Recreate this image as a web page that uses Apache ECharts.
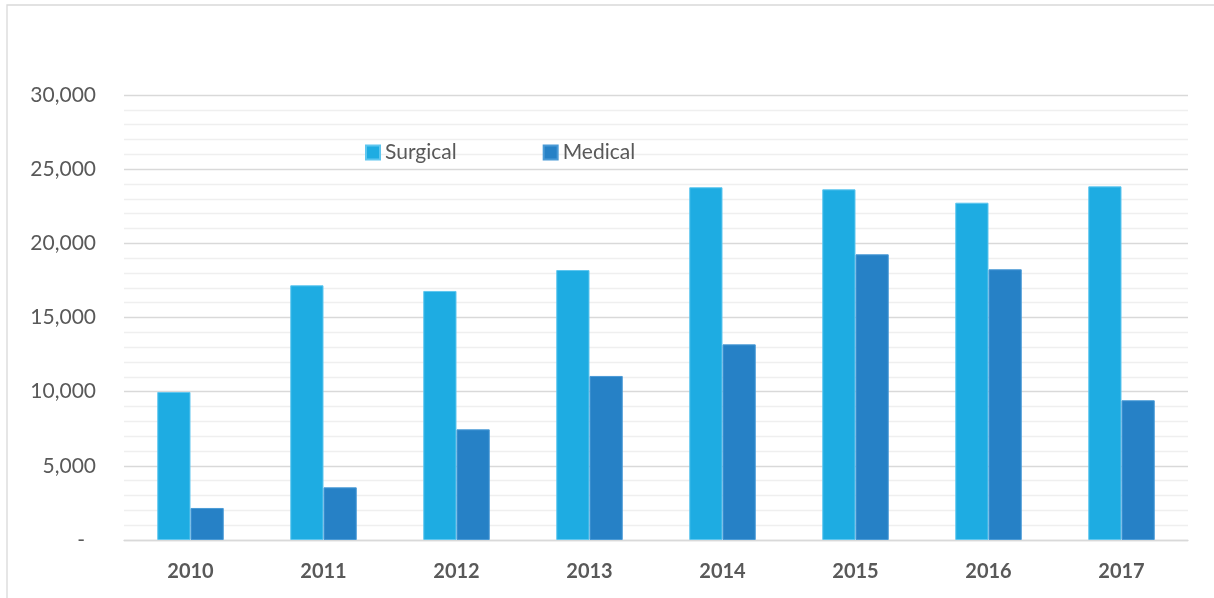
<!DOCTYPE html>
<html>
<head>
<meta charset="utf-8">
<script src="https://cdn.jsdelivr.net/npm/echarts@6/dist/echarts.min.js"></script>
<style>
html,body{margin:0;padding:0;background:#fff;}
#chart{width:1214px;height:598px;}
</style>
</head>
<body>
<div id="chart"></div>
<script>
var categories = ['2010','2011','2012','2013','2014','2015','2016','2017'];
var surgical = [9980, 17170, 16790, 18200, 23780, 23640, 22740, 23840];
var medical = [2160, 3550, 7460, 11060, 13190, 19260, 18250, 9420];
var seriesNames = ['Surgical', 'Medical'];

var chart = echarts.init(document.getElementById('chart'), null, {renderer: 'canvas'});
var font = 'Lato, "Open Sans", sans-serif';
function fmt(v) {
  if (v === 0) return '{z|-}';
  return v.toString().replace(/\B(?=(\d{3})+(?!\d))/g, ',');
}
chart.setOption({
  animation: false,
  backgroundColor: '#ffffff',
  graphic: [{
    type: 'rect',
    shape: {x: 7, y: 5, width: 1300, height: 700},
    style: {fill: 'none', stroke: '#d9d9d9', lineWidth: 1.3},
    silent: true
  }],
  legend: {
    data: seriesNames,
    left: 365,
    top: 142,
    padding: 0,
    itemWidth: 14,
    itemHeight: 14,
    itemGap: 86,
    icon: 'rect',
    textStyle: {fontFamily: font, fontSize: 21, color: '#595959'}
  },
  grid: {left: 124, right: 26, top: 95, bottom: 58, containLabel: false},
  xAxis: {
    type: 'category',
    data: categories,
    axisLine: {show: true, lineStyle: {color: '#d9d9d9', width: 1.3}},
    axisTick: {show: false},
    axisLabel: {fontFamily: font, fontSize: 20, fontWeight: 'bold', color: '#595959', margin: 22}
  },
  yAxis: {
    type: 'value',
    min: 0,
    max: 30000,
    interval: 5000,
    axisLine: {show: false},
    axisTick: {show: false},
    axisLabel: {
      fontFamily: font, fontSize: 21, color: '#595959', margin: 28,
      formatter: fmt,
      rich: {z: {fontFamily: font, fontSize: 21, color: '#595959', padding: [0, 11, 0, 0]}}
    },
    splitLine: {show: true, lineStyle: {color: '#d9d9d9', width: 1.3}},
    minorTick: {show: false, splitNumber: 5},
    minorSplitLine: {show: true, lineStyle: {color: '#efefef', width: 1.3}}
  },
  series: [
    {
      name: seriesNames[0],
      type: 'bar',
      data: surgical,
      barGap: '0%',
      barCategoryGap: '50%',
      itemStyle: {color: '#1eace2', borderColor: '#5ec6ef', borderWidth: 1}
    },
    {
      name: seriesNames[1],
      type: 'bar',
      data: medical,
      itemStyle: {color: '#2681c6', borderColor: '#4a9ad6', borderWidth: 1}
    }
  ]
});
</script>
</body>
</html>
